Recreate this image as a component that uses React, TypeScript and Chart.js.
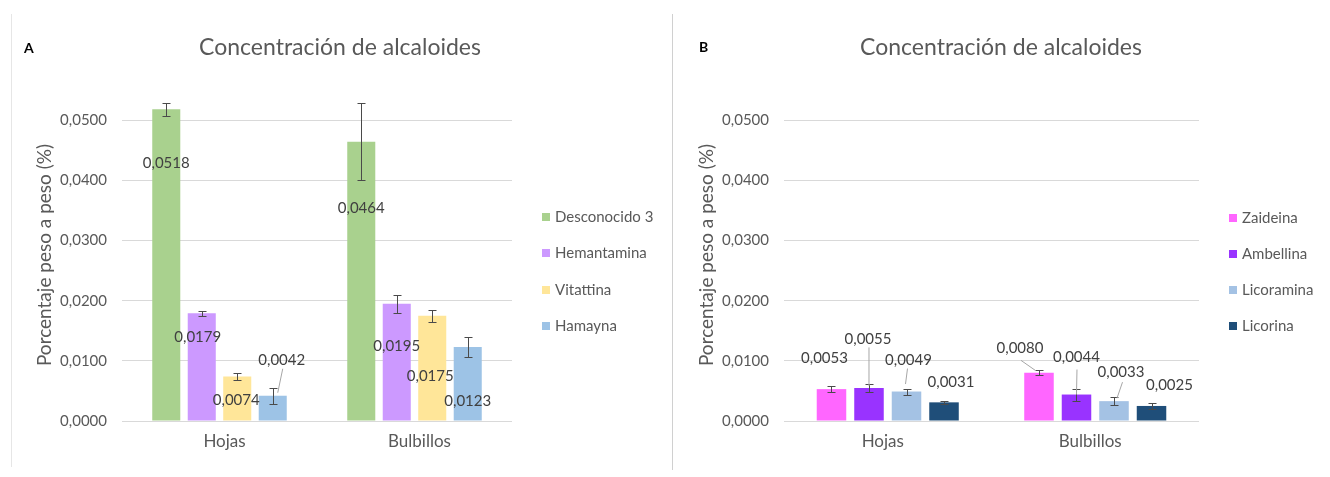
import React, { useEffect, useRef } from "react";
import { Chart, registerables } from "chart.js";

Chart.register(...registerables);

// ---- data ----
const categories = ["Hojas", "Bulbillos"];
const yTickValues = [0, 0.01, 0.02, 0.03, 0.04, 0.05];

// Panel A
const seriesNamesA = ["Desconocido 3", "Hemantamina", "Vitattina", "Hamayna"];
const desconocido3 = [0.0518, 0.0464];
const hemantamina = [0.0179, 0.0195];
const vitattina = [0.0074, 0.0175];
const hamayna = [0.0042, 0.0123];
const desconocido3Err = [0.0011, 0.0064];
const hemantaminaErr = [0.0004, 0.0015];
const vitattinaErr = [0.0006, 0.001];
const hamaynaErr = [0.0013, 0.0016];

// Panel B
const seriesNamesB = ["Zaideina", "Ambellina", "Licoramina", "Licorina"];
const zaideina = [0.0053, 0.008];
const ambellina = [0.0055, 0.0044];
const licoramina = [0.0049, 0.0033];
const licorina = [0.0031, 0.0025];
const zaideinaErr = [0.0005, 0.0004];
const ambellinaErr = [0.0007, 0.001];
const licoraminaErr = [0.0005, 0.0007];
const licorinaErr = [0.0002, 0.0005];

// ---- styling ----
const FONT = "Lato, 'Open Sans', sans-serif";
const TEXT = "#595959";
const LABEL = "#404040";
const GRID = "#d9d9d9";

const colorsA = ["#A9D18E", "#CC99FF", "#FFE699", "#9DC3E6"];
const colorsB = ["#FF66FF", "#9933FF", "#A4C2E4", "#1F4E79"];

// label offsets (px) from the top-centre of each bar, per series and category
const labelOffsetsA = [
  [[0, 54], [0, 66]],
  [[-4, 24], [0, 42]],
  [[-1, 24], [-2, 60]],
  [[9, -36], [0, 54]],
];
// leader lines: [startDx, startDy] from label centre, [endDx, endDy] from bar top
const leadersA = [
  [null, null],
  [null, null],
  [null, null],
  [[1, 9, 5, -3], null],
];
const labelOffsetsB = [
  [[-7, -31], [-19, -24.5]],
  [[-1, -48.5], [0, -37]],
  [[2, -31], [7, -29]],
  [[7, -20], [18, -21]],
];
const leadersB = [
  [null, [1, 12, -3, -2]],
  [[1, 8, 0, -2], [0.5, 12, 0, 0]],
  [[-1, 8, -1, -7.5], [1.5, 10, 3, -3]],
  [null, null],
];

const fmt = (v: number) => v.toFixed(4).replace(".", ",");

const overlayPlugin = {
  id: "panelOverlay",
  afterDraw(chart: any) {
    const o = chart.options.plugins.panelOverlay;
    if (!o || !o.title) return;
    const ctx = chart.ctx as CanvasRenderingContext2D;
    const ys = chart.scales.y;
    ctx.save();

    // panel letter
    ctx.fillStyle = "#000";
    ctx.font = `bold 14px ${FONT}`;
    ctx.textAlign = "left";
    ctx.textBaseline = "middle";
    ctx.fillText(o.letter, o.letterX, o.letterY);

    // title
    ctx.fillStyle = TEXT;
    ctx.font = `23px ${FONT}`;
    ctx.textAlign = "center";
    ctx.fillText(o.title, o.titleX, o.titleY);

    // vertical axis title
    ctx.save();
    ctx.translate(o.yTitleX, o.yTitleY);
    ctx.rotate(-Math.PI / 2);
    ctx.font = `19px ${FONT}`;
    ctx.fillText(o.yTitle, 0, 0);
    ctx.restore();

    // error bars
    ctx.strokeStyle = "#4a4a4a";
    ctx.lineWidth = 1;
    chart.data.datasets.forEach((ds: any, di: number) => {
      const meta = chart.getDatasetMeta(di);
      meta.data.forEach((bar: any, i: number) => {
        const v = ds.data[i];
        const e = o.errors[di][i];
        const x = Math.round(bar.x) + 0.5;
        const yt = Math.round(ys.getPixelForValue(v + e)) + 0.5;
        const yb = Math.round(ys.getPixelForValue(v - e)) + 0.5;
        ctx.beginPath();
        ctx.moveTo(x, yt);
        ctx.lineTo(x, yb);
        ctx.moveTo(x - 4, yt);
        ctx.lineTo(x + 4, yt);
        ctx.moveTo(x - 4, yb);
        ctx.lineTo(x + 4, yb);
        ctx.stroke();
      });
    });

    // leader lines and value labels
    chart.data.datasets.forEach((ds: any, di: number) => {
      const meta = chart.getDatasetMeta(di);
      meta.data.forEach((bar: any, i: number) => {
        const [dx, dy] = o.labelOffsets[di][i];
        const lx = bar.x + dx;
        const ly = bar.y + dy;
        const ld = o.leaders[di][i];
        if (ld) {
          ctx.strokeStyle = "#a6a6a6";
          ctx.beginPath();
          ctx.moveTo(lx + ld[0], ly + ld[1]);
          ctx.lineTo(bar.x + ld[2], bar.y + ld[3]);
          ctx.stroke();
        }
        ctx.fillStyle = LABEL;
        ctx.font = `15px ${FONT}`;
        ctx.textAlign = "center";
        ctx.textBaseline = "middle";
        ctx.fillText(fmt(ds.data[i]), lx, ly);
      });
    });

    // legend
    chart.data.datasets.forEach((ds: any, di: number) => {
      const cy = o.legendY + di * o.legendStep;
      ctx.fillStyle = ds.backgroundColor;
      ctx.fillRect(o.legendX, Math.round(cy - 4), 8, 8);
      ctx.fillStyle = TEXT;
      ctx.font = `15px ${FONT}`;
      ctx.textAlign = "left";
      ctx.textBaseline = "middle";
      ctx.fillText(ds.label, o.legendX + 13, cy);
    });

    ctx.restore();
  },
};

function buildConfig(p: any): any {
  return {
    type: "bar",
    data: {
      labels: categories,
      datasets: p.names.map((name: string, i: number) => ({
        label: name,
        data: p.values[i],
        backgroundColor: p.colors[i],
        borderWidth: 0,
        categoryPercentage: p.catPct,
        barPercentage: p.barPct,
      })),
    },
    options: {
      animation: false,
      responsive: false,
      maintainAspectRatio: false,
      events: [],
      layout: { padding: { left: p.padLeft, right: p.padRight, top: 60, bottom: 0 } },
      plugins: {
        legend: { display: false },
        title: { display: false },
        tooltip: { enabled: false },
        panelOverlay: p.overlay,
      },
      scales: {
        x: {
          grid: { display: false },
          border: { display: false },
          ticks: {
            color: TEXT,
            font: { family: FONT, size: 17 },
            padding: 2,
            labelOffset: p.xLabelShift,
          },
          afterFit: (s: any) => {
            s.height = 56;
          },
        },
        y: {
          min: 0,
          max: 0.06,
          afterBuildTicks: (axis: any) => {
            axis.ticks = yTickValues.map((v) => ({ value: v }));
          },
          afterFit: (s: any) => {
            s.width = p.yWidth;
          },
          grid: { color: GRID, drawTicks: false },
          border: { display: false },
          ticks: {
            color: TEXT,
            font: { family: FONT, size: 15 },
            padding: 15,
            callback: (v: any) => fmt(Number(v)),
          },
        },
      },
    },
    plugins: [overlayPlugin],
  };
}

const panelA = {
  names: seriesNamesA,
  values: [desconocido3, hemantamina, vitattina, hamayna],
  colors: colorsA,
  catPct: 0.728,
  barPct: 0.79,
  padLeft: 10,
  padRight: 160,
  yWidth: 112,
  xLabelShift: 5,
  overlay: {
    letter: "A",
    letterX: 24,
    letterY: 48,
    title: "Concentración de alcaloides",
    titleX: 340,
    titleY: 48,
    yTitle: "Porcentaje peso a peso (%)",
    yTitleX: 45,
    yTitleY: 255,
    errors: [desconocido3Err, hemantaminaErr, vitattinaErr, hamaynaErr],
    labelOffsets: labelOffsetsA,
    leaders: leadersA,
    legendX: 542,
    legendY: 217,
    legendStep: 36.4,
  },
};

const panelB = {
  names: seriesNamesB,
  values: [zaideina, ambellina, licoramina, licorina],
  colors: colorsB,
  catPct: 0.723,
  barPct: 0.787,
  padLeft: 11,
  padRight: 131,
  yWidth: 100,
  xLabelShift: -5,
  overlay: {
    letter: "B",
    letterX: 26,
    letterY: 47,
    title: "Concentración de alcaloides",
    titleX: 328,
    titleY: 48,
    yTitle: "Porcentaje peso a peso (%)",
    yTitleX: 34,
    yTitleY: 255,
    errors: [zaideinaErr, ambellinaErr, licoraminaErr, licorinaErr],
    labelOffsets: labelOffsetsB,
    leaders: leadersB,
    legendX: 556,
    legendY: 218,
    legendStep: 36,
  },
};

function ChartPanel({ panel, left, width }: { panel: any; left: number; width: number }) {
  const ref = useRef<HTMLCanvasElement>(null);
  useEffect(() => {
    if (!ref.current) return;
    const chart = new Chart(ref.current, buildConfig(panel));
    return () => chart.destroy();
  }, [panel]);
  return (
    <canvas
      ref={ref}
      width={width}
      height={477}
      style={{ position: "absolute", left, top: 0, width, height: 477 }}
    />
  );
}

export default function App() {
  return (
    <div
      style={{
        position: "absolute",
        left: 0,
        top: 0,
        width: 1330,
        height: 477,
        background: "#fff",
        overflow: "hidden",
      }}
    >
      <div style={{ position: "absolute", left: 11, top: 14, width: 1, height: 453, background: "#e6e6e6" }} />
      <div style={{ position: "absolute", left: 672, top: 14, width: 1, height: 456, background: "#d0d0d0" }} />
      <ChartPanel panel={panelA} left={0} width={672} />
      <ChartPanel panel={panelB} left={673} width={657} />
    </div>
  );
}
